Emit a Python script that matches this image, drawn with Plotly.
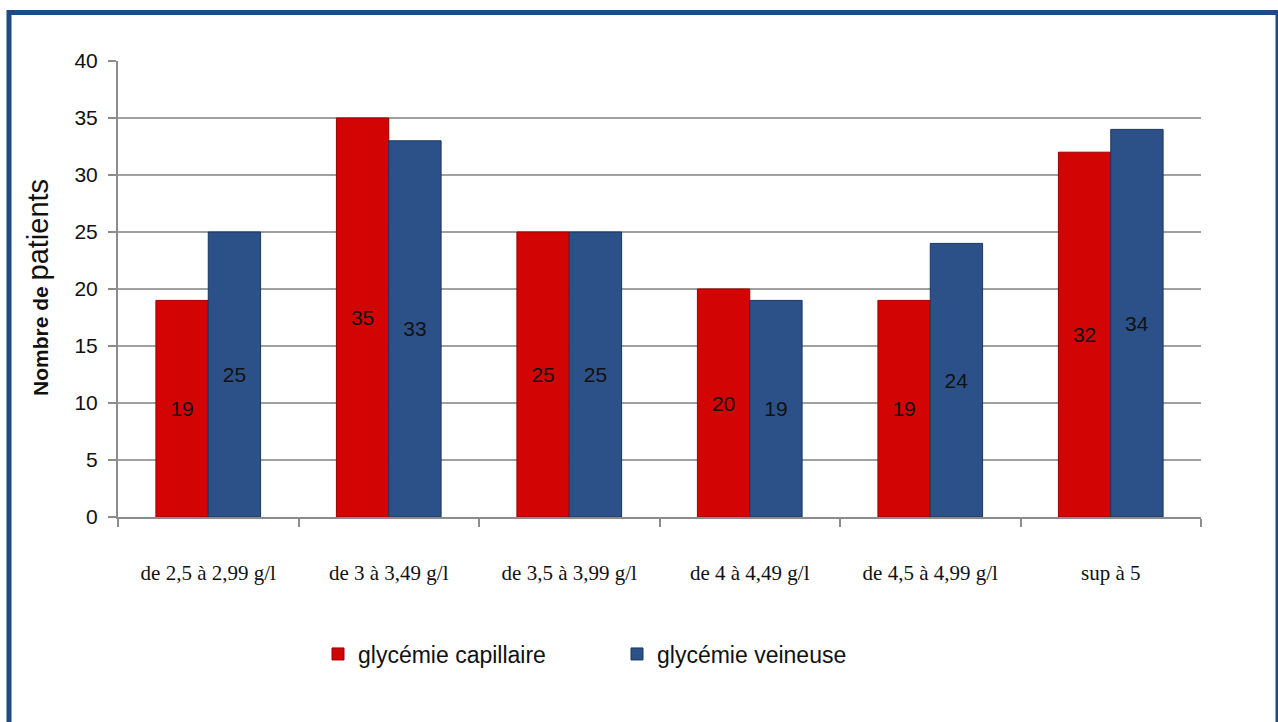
import plotly.graph_objects as go

# Glycemia ranges and patient counts per measurement method
categories = ["de 2,5 à 2,99 g/l", "de 3 à 3,49 g/l", "de 3,5 à 3,99 g/l",
              "de 4 à 4,49 g/l", "de 4,5 à 4,99 g/l", "sup à 5"]
capillaire = [19, 35, 25, 20, 19, 32]
veineuse = [25, 33, 25, 19, 24, 34]

W, H = 1278, 722
L, R, T, B = 118, 77, 61, 205
pw, ph = W - L - R, H - T - B


def px_x(p):
    return (p - L) / pw


def px_y(p):
    return (H - B - p) / ph


label_font = dict(family="Liberation Sans, Arial, sans-serif", size=21, color="#111111")

fig = go.Figure()
fig.add_trace(go.Bar(
    name="glycémie capillaire", x=categories, y=capillaire,
    marker=dict(color="#D20404", line=dict(color="#9A0000", width=1)),
    text=[str(v) for v in capillaire], textposition="inside",
    insidetextanchor="middle", textangle=0, textfont=label_font,
))
fig.add_trace(go.Bar(
    name="glycémie veineuse", x=categories, y=veineuse,
    marker=dict(color="#2B5188", line=dict(color="#1B3560", width=1)),
    text=[str(v) for v in veineuse], textposition="inside",
    insidetextanchor="middle", textangle=0, textfont=label_font,
))

fig.update_layout(
    width=W, height=H,
    margin=dict(l=L, r=R, t=T, b=B, pad=0),
    paper_bgcolor="white", plot_bgcolor="white",
    barmode="group", bargap=0.42, bargroupgap=0,
    showlegend=True,
    legend=dict(orientation="h", x=px_x(318), xanchor="left",
                y=px_y(654), yanchor="middle",
                font=dict(family="Liberation Sans, Arial, sans-serif", size=23, color="#111111"),
                itemwidth=30, traceorder="normal", entrywidthmode="pixels", entrywidth=254),
    uniformtext=dict(mode=False),
)

fig.update_xaxes(
    type="category", showgrid=False,
    showline=True, linecolor="#8C8C8C", linewidth=2,
    ticks="outside", tickson="boundaries", ticklen=8, tickcolor="#8C8C8C", tickwidth=2,
    ticklabelstandoff=36,
    tickfont=dict(family="Liberation Serif, Times New Roman, serif", size=21, color="#111111"),
)
fig.update_yaxes(
    range=[0, 40], dtick=5, tick0=0,
    showgrid=True, gridcolor="#A0A0A0", gridwidth=1.5,
    showline=True, linecolor="#8C8C8C", linewidth=2,
    ticks="outside", ticklen=8, tickcolor="#8C8C8C", tickwidth=2,
    zeroline=False,
    ticklabelstandoff=6,
    tickfont=dict(family="Liberation Sans, Arial, sans-serif", size=21, color="#111111"),
)

# Vertical axis title: small bold prefix, larger second word
fig.add_annotation(
    xref="paper", yref="paper", x=px_x(38), y=px_y(288),
    text="<b>Nombre de </b><span style='font-size:29px'>patients</span>",
    textangle=-90, showarrow=False,
    font=dict(family="Liberation Sans, Arial, sans-serif", size=21, color="#111111"),
    xanchor="center", yanchor="middle",
)

# Dark blue frame around the whole chart
fig.add_shape(
    type="rect", xref="paper", yref="paper",
    x0=px_x(9), x1=px_x(1278), y0=px_y(740), y1=px_y(12.5),
    line=dict(color="#1F4B85", width=5), fillcolor="rgba(0,0,0,0)", layer="above",
)

fig.write_html("out.html")
